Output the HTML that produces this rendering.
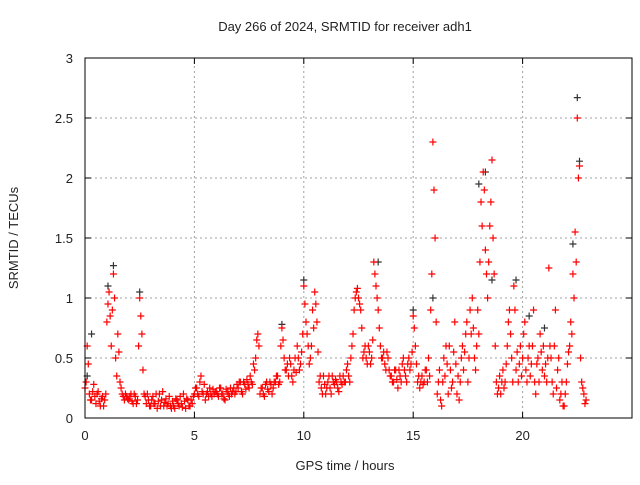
<!DOCTYPE html>
<html><head><meta charset="utf-8"><style>
body{margin:0;background:#fff;}
svg text{font-family:"Liberation Sans",sans-serif;font-size:13px;fill:#222;}
</style></head><body>
<svg id="chart" width="640" height="480" xmlns="http://www.w3.org/2000/svg">
<rect width="640" height="480" fill="#fff"/>
<g id="grid"></g>
<g id="ticks"></g>
<g id="black"></g>
<g id="red"></g>
<rect x="85" y="58" width="547" height="360" fill="none" stroke="#000" stroke-width="1"/>
<text x="345" y="31" text-anchor="middle">Day 266 of 2024, SRMTID for receiver adh1</text>
<text x="345" y="470" text-anchor="middle">GPS time / hours</text>
<text transform="translate(18,238) rotate(-90)" text-anchor="middle">SRMTID / TECUs</text>
</svg>
<script>
const xTicks=[0,5,10,15,20];
const yTicks=[0,0.5,1,1.5,2,2.5,3];
const yTickLabels=["0","0.5","1","1.5","2","2.5","3"];
const redStart=0, redStep=0.1;
const redValues=[
0.25,0.6,0.2,0.15,0.28,0.12,0.22,0.1,0.18,0.15,
0.8,1.05,0.6,1.2,0.5,0.7,0.3,0.2,0.15,0.18,
0.15,0.2,0.12,0.18,0.15,1.0,0.7,0.2,0.12,0.15,
0.1,0.18,0.12,0.08,0.2,0.15,0.1,0.16,0.12,0.1,
0.14,0.08,0.15,0.1,0.12,0.2,0.08,0.15,0.1,0.12,
0.2,0.25,0.18,0.35,0.2,0.15,0.22,0.25,0.18,0.2,
0.22,0.18,0.25,0.2,0.15,0.22,0.18,0.2,0.25,0.22,
0.25,0.3,0.2,0.28,0.32,0.25,0.3,0.45,0.5,0.7,
0.2,0.25,0.18,0.3,0.22,0.28,0.25,0.3,0.35,0.3,
0.75,0.5,0.4,0.35,0.45,0.3,0.5,0.6,0.4,0.55,
1.1,0.8,0.6,0.5,0.9,1.05,0.8,0.3,0.25,0.35,
0.2,0.3,0.25,0.35,0.28,0.3,0.22,0.3,0.35,0.3,
0.45,0.3,0.6,0.9,1.05,1.0,0.9,0.5,0.6,0.45,
0.55,0.5,1.3,1.1,0.9,0.6,0.5,0.45,0.55,0.4,
0.35,0.3,0.4,0.25,0.35,0.45,0.4,0.3,0.5,0.45,
0.85,0.6,0.3,0.25,0.35,0.3,0.4,0.5,0.9,2.3,
1.5,0.2,0.4,0.1,0.5,0.6,0.2,0.4,0.3,0.8,
0.2,0.15,0.5,0.4,0.7,0.3,0.9,1.0,0.5,0.6,
0.7,1.8,2.05,1.4,1.0,1.6,2.15,1.2,0.3,0.25,
0.2,0.4,0.3,0.6,0.9,0.5,1.1,0.4,0.3,0.6,
0.5,0.8,0.3,0.6,0.45,0.9,0.2,0.5,0.7,0.4,
0.35,0.3,1.25,0.5,0.2,0.9,0.4,0.15,0.3,0.1,
0.3,0.55,0.8,1.2,1.55,2.5,2.1,0.3,0.2,0.15];
const red2Start=0.05;
const red2Values=[
0.3,0.45,0.15,0.22,0.18,0.2,0.14,0.16,0.1,0.2,
0.95,0.85,0.9,1.0,0.35,0.55,0.25,0.18,0.2,0.16,
0.18,0.14,0.2,0.12,0.6,0.85,0.4,0.18,0.2,0.1,
0.15,0.12,0.2,0.14,0.1,0.22,0.13,0.1,0.18,0.08,
0.1,0.16,0.12,0.18,0.09,0.14,0.16,0.1,0.15,0.18,
0.25,0.2,0.3,0.22,0.28,0.2,0.18,0.2,0.24,0.22,
0.2,0.25,0.2,0.16,0.24,0.2,0.25,0.22,0.2,0.28,
0.3,0.22,0.3,0.24,0.28,0.35,0.28,0.4,0.65,0.6,
0.25,0.2,0.28,0.24,0.3,0.2,0.3,0.35,0.28,0.6,
0.65,0.4,0.45,0.5,0.35,0.4,0.38,0.5,0.45,0.7,
0.95,0.7,0.45,0.6,0.75,0.95,0.55,0.35,0.2,0.28,
0.25,0.35,0.2,0.3,0.32,0.25,0.35,0.28,0.3,0.4,
0.35,0.5,0.7,1.0,1.08,0.95,0.75,0.55,0.5,0.6,
0.45,0.65,1.2,1.0,0.75,0.5,0.55,0.4,0.5,0.35,
0.3,0.4,0.32,0.4,0.3,0.5,0.35,0.45,0.4,0.55,
0.75,0.45,0.35,0.3,0.28,0.4,0.3,0.35,1.2,1.9,
0.8,0.3,0.15,0.3,0.35,0.45,0.6,0.25,0.55,0.45,
0.35,0.3,0.6,0.55,0.8,0.5,0.7,0.75,0.4,0.9,
1.3,1.6,1.9,1.2,1.3,1.8,1.5,0.6,0.2,0.35,
0.3,0.25,0.45,0.8,0.7,0.3,0.9,0.55,0.45,0.35,
0.7,0.4,0.5,0.35,0.6,0.3,0.45,0.3,0.55,0.6,
0.45,0.5,0.6,0.3,0.6,0.25,0.5,0.2,0.1,0.2,
0.45,0.6,0.7,1.0,1.3,2.0,0.5,0.25,0.12];
const blackTimes=[0.1,0.3,1.05,1.3,2.5,9.0,10.0,13.4,15.0,15.9,18.0,18.3,18.6,19.7,20.3,21.0,22.3,22.5,22.6];
const blackValues=[0.35,0.7,1.1,1.27,1.05,0.78,1.15,1.3,0.9,1.0,1.95,2.05,1.15,1.15,0.85,0.75,1.45,2.67,2.14];

const ns="http://www.w3.org/2000/svg";
const X0=85,X1=632,Y0=418,Y1=58;
function sx(t){return X0+(t/25)*(X1-X0);}
function sy(v){return Y0-(v/3)*(Y0-Y1);}
function mk(tag,attrs,parent){const e=document.createElementNS(ns,tag);for(const k in attrs)e.setAttribute(k,attrs[k]);parent.appendChild(e);return e;}
const grid=document.getElementById('grid'),ticks=document.getElementById('ticks');
xTicks.forEach((t,i)=>{
 const x=sx(t);
 if(t>0){const g=mk('line',{x1:x,x2:x,y1:Y0,y2:Y1,stroke:'#a0a0a0','stroke-dasharray':'2,3'},grid);
 
 }
 mk('line',{x1:x,x2:x,y1:Y0,y2:Y0-6,stroke:'#000'},ticks);
 mk('line',{x1:x,x2:x,y1:Y1,y2:Y1+6,stroke:'#000'},ticks);
 const l=mk('text',{x:x,y:Y0+22,'text-anchor':'middle'},ticks);l.textContent=String(t);
 
 
});
yTicks.forEach((v,i)=>{
 const y=sy(v);
 if(v>0&&v<3){const g=mk('line',{x1:X0,x2:X1,y1:y,y2:y,stroke:'#a0a0a0','stroke-dasharray':'2,3'},grid);
 
 }
 mk('line',{x1:X0,x2:X0+6,y1:y,y2:y,stroke:'#000'},ticks);
 mk('line',{x1:X1,x2:X1-6,y1:y,y2:y,stroke:'#000'},ticks);
 const l=mk('text',{x:X0-12,y:y+5,'text-anchor':'end'},ticks);l.textContent=yTickLabels[i];
 
 
});
function plus(g,t,v,c){
 const x=sx(t),y=sy(v);
 const p=mk('path',{d:`M${x-3.5},${y}h7M${x},${y-3.5}v7`,stroke:c,'stroke-width':1.2,fill:'none'},g);
 
 
}
const bg=document.getElementById('black');
blackTimes.forEach((t,i)=>plus(bg,t,blackValues[i],'#333'));
const rg=document.getElementById('red');
redValues.forEach((v,i)=>plus(rg,redStart+i*redStep,v,'#f00'));
red2Values.forEach((v,i)=>plus(rg,red2Start+i*redStep,v,'#f00'));
</script>
</body></html>
